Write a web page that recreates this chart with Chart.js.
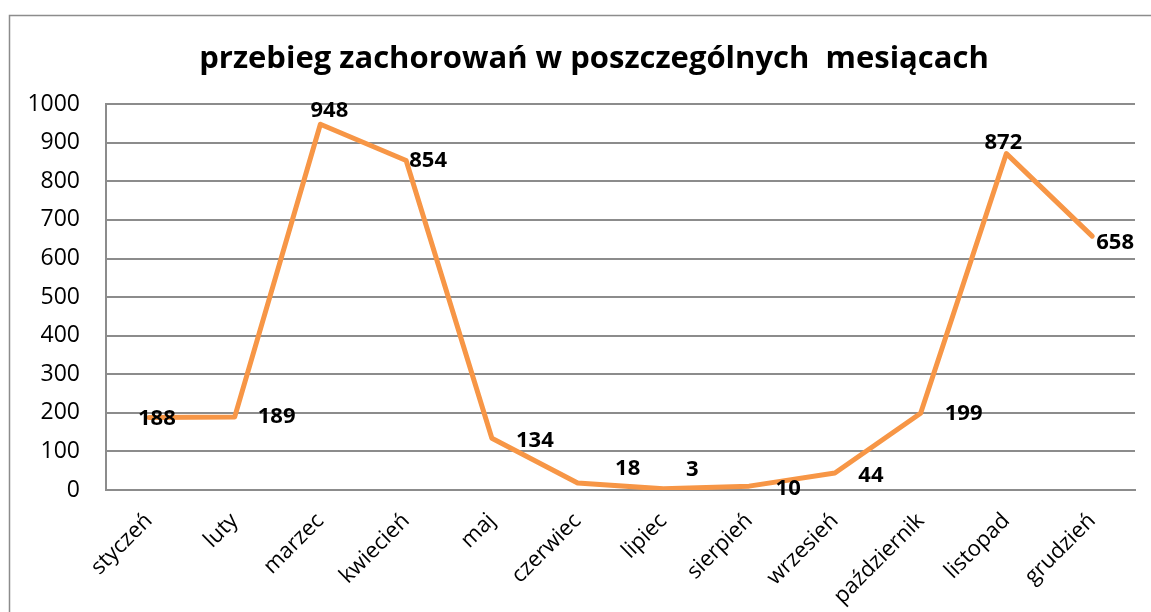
<!DOCTYPE html>
<html>
<head>
<meta charset="utf-8">
<script src="https://cdn.jsdelivr.net/npm/chart.js@4"></script>
<style>
html,body{margin:0;padding:0;background:#fff;}
#wrap{position:relative;width:1151px;height:612px;}
</style>
</head>
<body>
<div id="wrap"><canvas id="c" width="1151" height="612"></canvas></div>
<script>
const titleText = 'przebieg zachorowań w poszczególnych  mesiącach';
const categories = ['styczeń','luty','marzec','kwiecień','maj','czerwiec','lipiec','sierpień','wrzesień','październik','listopad','grudzień'];
const values = [188,189,948,854,134,18,3,10,44,199,872,658];
const yTicks = [0,100,200,300,400,500,600,700,800,900,1000];

// label offsets (px) relative to each point, mimicking the original layout
const labelOffsets = [[8,1],[42,0],[9,-14],[22,0],[43,2],[50,-14],[29,-19],[39,3],[36,3],[43,1],[-3,-11],[23,7]];

const FONT = "'Open Sans', 'Liberation Sans', sans-serif";

const frame = {
  id: 'frame',
  beforeDraw(chart) {
    const ctx = chart.ctx;
    ctx.save();
    ctx.strokeStyle = '#8c8c8c';
    ctx.lineWidth = 1.5;
    ctx.beginPath();
    ctx.moveTo(9.5, 612);
    ctx.lineTo(9.5, 15.5);
    ctx.lineTo(1151, 15.5);
    ctx.stroke();
    ctx.restore();
  },
  afterLayout(chart) {
    // centre the title like the original (slightly right of canvas centre)
    if (chart.titleBlock) {
      chart.titleBlock.left = 53;
      chart.titleBlock.right = 1135;
    }
  }
};

const dataLabels = {
  id: 'dataLabels',
  afterDatasetsDraw(chart) {
    const ctx = chart.ctx;
    const meta = chart.getDatasetMeta(0);
    ctx.save();
    ctx.font = "bold 22px " + FONT;
    ctx.fillStyle = '#000';
    ctx.textAlign = 'center';
    ctx.textBaseline = 'middle';
    meta.data.forEach((pt, i) => {
      const o = labelOffsets[i];
      ctx.fillText(String(values[i]), pt.x + o[0], pt.y + o[1]);
    });
    ctx.restore();
  }
};

new Chart(document.getElementById('c'), {
  type: 'line',
  data: {
    labels: categories,
    datasets: [{
      data: values,
      borderColor: '#F79646',
      borderWidth: 5,
      pointRadius: 0,
      tension: 0,
      fill: false,
      borderJoinStyle: 'round',
      borderCapStyle: 'round'
    }]
  },
  options: {
    responsive: false,
    animation: false,
    layout: { padding: { left: 10, right: 16, top: 0, bottom: 0 } },
    plugins: {
      legend: { display: false },
      tooltip: { enabled: false },
      title: {
        display: true,
        text: titleText,
        color: '#000',
        font: { family: FONT, size: 31, weight: 'bold', lineHeight: 1.2 },
        padding: { top: 41, bottom: 26 }
      }
    },
    scales: {
      x: {
        offset: true,
        grid: { display: false, drawTicks: false },
        border: { display: true, color: '#8c8c8c', width: 2 },
        ticks: {
          color: '#000',
          font: { family: FONT, size: 22 },
          minRotation: 45, maxRotation: 45,
          padding: 18,
          autoSkip: false
        },
        afterFit(scale) { scale.height = 122; }
      },
      y: {
        min: 0, max: 1000,
        afterBuildTicks(scale) { scale.ticks = yTicks.map(v => ({ value: v })); },
        grid: { color: '#8c8c8c', lineWidth: 2, drawTicks: false },
        border: { display: true, color: '#8c8c8c', width: 2 },
        ticks: {
          color: '#000',
          font: { family: FONT, size: 23 },
          padding: 26,
          callback: (v) => String(v)
        },
        afterFit(scale) { scale.width = 96; }
      }
    }
  },
  plugins: [frame, dataLabels]
});
</script>
</body>
</html>
